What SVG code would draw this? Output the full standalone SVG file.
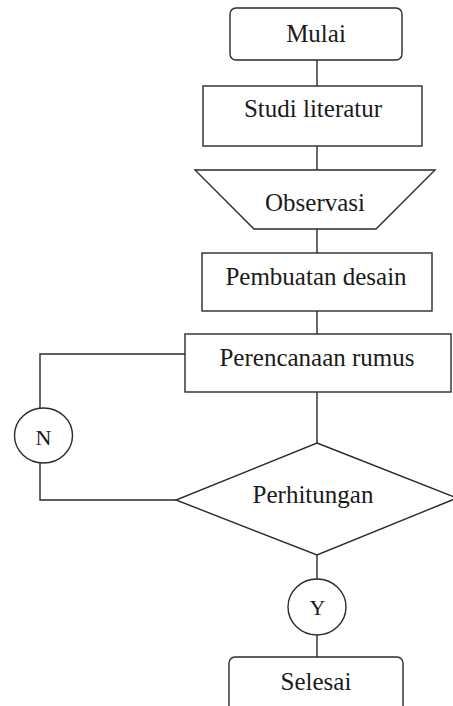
<svg xmlns="http://www.w3.org/2000/svg" width="453" height="706" viewBox="0 0 453 706">
<style>
.s{fill:#fff;stroke:#2a2a2a;stroke-width:1.4}
.c{fill:none;stroke:#2a2a2a;stroke-width:1.4}
.t{font-family:"Liberation Serif","Times New Roman",serif;font-size:25px;fill:#1a1a1a;text-anchor:middle}
.l{font-family:"Liberation Serif","Times New Roman",serif;font-size:22px;fill:#1a1a1a;text-anchor:middle}
</style>
<rect width="453" height="706" fill="#fff"/>
<g id="connectors">
<line class="c" x1="317" y1="60" x2="317" y2="86"/>
<line class="c" x1="317" y1="146" x2="317" y2="170"/>
<line class="c" x1="317" y1="229" x2="317" y2="253"/>
<line class="c" x1="317" y1="311" x2="317" y2="334"/>
<line class="c" x1="317" y1="392" x2="317" y2="443"/>
<line class="c" x1="317" y1="555" x2="317" y2="579"/>
<line class="c" x1="317" y1="635" x2="317" y2="657"/>
<polyline class="c" points="185,354 40,354 40,408"/>
<polyline class="c" points="40,463 40,500 176,500"/>
</g>
<g id="mulai">
<rect class="s" x="230" y="8" width="172" height="52" rx="6"/>
<text class="t" x="316" y="42">Mulai</text>
</g>
<g id="studi">
<rect class="s" x="203" y="86" width="219" height="60"/>
<text class="t" x="313" y="117">Studi literatur</text>
</g>
<g id="observasi">
<polygon class="s" points="195,170 435,170 376,229 254,229"/>
<text class="t" x="315" y="211">Observasi</text>
</g>
<g id="pembuatan">
<rect class="s" x="202" y="253" width="230" height="58"/>
<text class="t" x="316" y="285">Pembuatan desain</text>
</g>
<g id="perencanaan">
<rect class="s" x="185" y="334" width="266" height="58"/>
<text class="t" x="317" y="366">Perencanaan rumus</text>
</g>
<g id="perhitungan">
<polygon class="s" points="317,443 457,498 317,555 176,500"/>
<text class="t" x="313" y="503">Perhitungan</text>
</g>
<g id="n">
<ellipse class="s" cx="43.5" cy="435.5" rx="29" ry="27.5"/>
<text class="l" x="43.5" y="445">N</text>
</g>
<g id="y">
<ellipse class="s" cx="317" cy="607" rx="29" ry="28"/>
<text class="l" x="317.5" y="615">Y</text>
</g>
<g id="selesai">
<rect class="s" x="229" y="657" width="174" height="70" rx="6"/>
<text class="t" x="316" y="690">Selesai</text>
</g>
</svg>
